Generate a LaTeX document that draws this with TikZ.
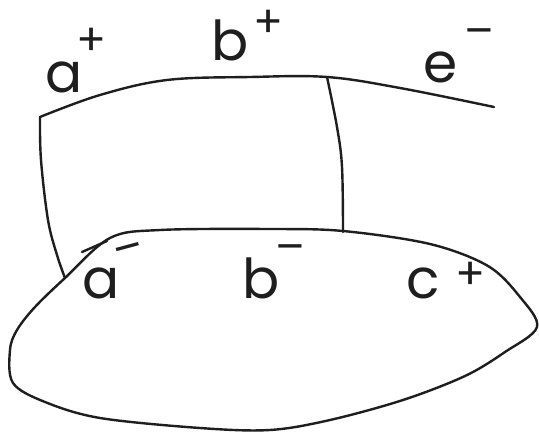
\documentclass[tikz,border=0pt]{standalone}
\usepackage{fontspec}
\setmainfont{Poppins}
\definecolor{ink}{HTML}{1E1E1E}
\begin{document}
\begin{tikzpicture}[x=1pt,y=-1pt,
  pen/.style={line width=2.4pt, draw=ink, line cap=round, line join=round},
  lbl/.style={font=\fontsize{55}{60}\selectfont, text=ink, inner sep=0pt, anchor=base west},
  sgn/.style={font=\fontsize{44}{48}\selectfont, text=ink, inner sep=0pt, anchor=center}]
\fill[white] (0,0) rectangle (539,439);
\useasboundingbox (0,0) rectangle (539,439);

% junction points
\coordinate (tl) at (40,117);
\coordinate (tm) at (327,77);
\coordinate (tr) at (494,107);
\coordinate (bl) at (65,278);
\coordinate (bm) at (343,231);

% top curve
\draw[pen] plot[smooth, tension=0.6] coordinates {(40,117) (100,95) (167,80) (250,77) (327,77) (400,88) (494,107)};
% left side
\draw[pen] plot[smooth, tension=0.6] coordinates {(40,117) (41,160) (48,220) (57,255) (65,278)};
% middle side
\draw[pen] plot[smooth, tension=0.6] coordinates {(327,77) (337,127) (342,167) (343,232)};
% bottom closed shape
\draw[pen] plot[smooth cycle, tension=0.55] coordinates {
  (65,278) (110,238) (160,230) (270,229) (343,231) (430,244) (488,266) (520,297) (537,327)
  (505,352) (465,376) (403,400) (330,420) (270,430) (200,428) (100,418) (45,402) (13,383)
  (10,350) (17,330) (35,307)};
% small extra stroke
\draw[pen] (82,252) -- (107,241);

% labels
\node[lbl] (ap) at (45,92) {a};
\node[sgn] (aps) at (92,42) {+};
\node[lbl] (bp) at (211,60) {b};
\node[sgn] (bps) at (269,24) {+};
\node[lbl] (em) at (423,82) {e};
\node[sgn] (ems) at (479,38) {–};
\node[lbl] (am) at (82,298) {a};
\node[sgn, rotate=15] (ams) at (130,254) {–};
\node[lbl] (bm2) at (242,298) {b};
\node[sgn] (bms) at (290,254) {–};
\node[lbl] (cp) at (406,298) {c};
\node[sgn] (cps) at (471,276) {+};
\end{tikzpicture}
\end{document}
